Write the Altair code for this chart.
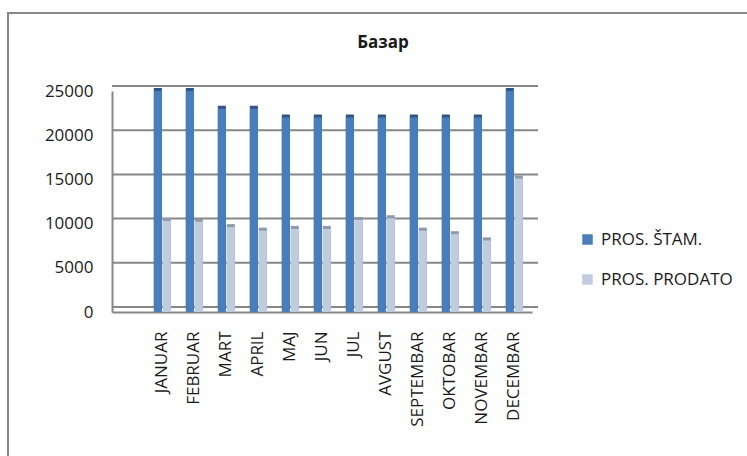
import altair as alt
import pandas as pd

# Monthly averages for the market ("Базар")
months = ["JANUAR", "FEBRUAR", "MART", "APRIL", "MAJ", "JUN", "JUL",
          "AVGUST", "SEPTEMBAR", "OKTOBAR", "NOVEMBAR", "DECEMBAR"]
series_names = ["PROS. ŠTAM.", "PROS. PRODATO"]
pros_stam = [25000, 25000, 23000, 23000, 22000, 22000, 22000, 22000, 22000, 22000, 22000, 25000]
pros_prodato = [10300, 10200, 9600, 9200, 9400, 9400, 10400, 10600, 9200, 8800, 8100, 15100]
y_ticks = [0, 5000, 10000, 15000, 20000, 25000]

front_colors = ["#4a7ebb", "#c0cbdf"]
side_colors = ["#2f5488", "#8e99a9"]

rows = []
for m, a, b in zip(months, pros_stam, pros_prodato):
    rows.append({"month": m, "series": series_names[0], "value": a})
    rows.append({"month": m, "series": series_names[1], "value": b})
df = pd.DataFrame(rows)
grid_df = pd.DataFrame({"value": y_ticks})

FONT = "Open Sans"
GRAY = "#878787"

x_enc = alt.X(
    "month:N", sort=months, title=None,
    scale=alt.Scale(paddingInner=15 / 32, paddingOuter=0.797, align=0.82),
    axis=alt.Axis(labelAngle=-90, labelPadding=19, ticks=False,
                  domainColor=GRAY, domainWidth=2, labelFontSize=17,
                  labelColor="#1a1a1a", labelFont=FONT),
)
xo_enc = alt.XOffset("series:N", sort=series_names,
                     scale=alt.Scale(paddingInner=0.1, paddingOuter=0))
y_scale = alt.Scale(domain=[0, 25000], nice=False)
y_axis = alt.Axis(values=y_ticks, grid=False, ticks=False, labelPadding=19,
                  domainColor=GRAY, domainWidth=2, labelFontSize=17,
                  labelColor="#1a1a1a", labelFont=FONT, format="d")
y_enc = alt.Y("value:Q", scale=y_scale, title=None, axis=y_axis)

# back-wall gridlines, drawn slightly up and to the right for depth
grid = alt.Chart(grid_df).mark_rule(color=GRAY, strokeWidth=2, xOffset=6, yOffset=-5).encode(
    y=y_enc
)

# darker side/top faces behind each column
side = alt.Chart(df).mark_bar(xOffset=3, yOffset=-3).encode(
    x=x_enc, xOffset=xo_enc, y=y_enc,
    color=alt.Color("series:N", sort=series_names, legend=None,
                    scale=alt.Scale(domain=series_names, range=side_colors)),
)

front = alt.Chart(df).mark_bar().encode(
    x=x_enc, xOffset=xo_enc, y=y_enc,
    color=alt.Color(
        "series:N", sort=series_names, title=None,
        scale=alt.Scale(domain=series_names, range=front_colors),
        legend=alt.Legend(orient="none", legendX=467, legendY=140,
                          symbolType="square", symbolSize=110, symbolStrokeWidth=0,
                          labelFontSize=17, labelFont=FONT, labelColor="#1a1a1a",
                          rowPadding=22, labelOffset=5),
    ),
)

frame = alt.Chart(grid_df).mark_rect(fill=None, stroke=GRAY, strokeWidth=2).encode(
    x=alt.value(-104), x2=alt.value(700), y=alt.value(-78), y2=alt.value(500)
)

chart = alt.layer(frame, grid, side, front).resolve_scale(color="independent").properties(
    width=420,
    height=221,
    padding={"left": 112, "top": 91, "right": 215, "bottom": 144},
    autosize=alt.AutoSizeParams(type="none"),
    title=alt.TitleParams("Базар", fontSize=17, fontWeight="bold", font=FONT,
                          anchor="middle", dx=61, offset=-40, color="#1a1a1a"),
    background="white",
).configure_view(stroke=None)

chart.save("out.html", embed_options={"renderer": "svg", "actions": False})
